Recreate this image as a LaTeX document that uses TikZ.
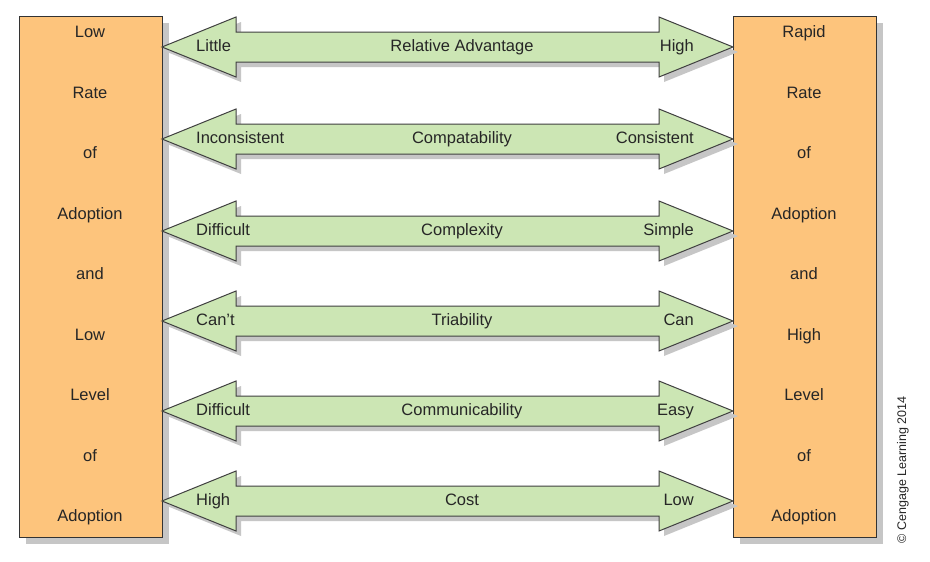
\documentclass[tikz,border=0pt]{standalone}
\usepackage{fontspec}
\setmainfont{Liberation Sans}
\begin{document}
\begin{tikzpicture}[x=1pt,y=-1pt,
  boxst/.style={draw=black!80,line width=1pt,fill=orange1},
  shad/.style={fill=gray!45,draw=none},
  arr/.style={draw=black!75,line width=1pt,fill=green1,line join=miter},
  lbl/.style={font=\fontsize{16.5}{18}\selectfont,text=black!85,text height=12pt,text depth=3pt},
  boxtxt/.style={font=\fontsize{16.5}{18}\selectfont,text=black!85,anchor=center,text height=12pt,text depth=3pt}]
\definecolor{orange1}{RGB}{253,196,124}
\definecolor{green1}{RGB}{204,230,180}
\useasboundingbox (0,0) rectangle (930,562);
\fill[white] (0,0) rectangle (930,562);
% boxes
\fill[shad] (26,23) rectangle (169,544);
\fill[shad] (740,23) rectangle (883,544);
\node[boxst,minimum width=143pt,minimum height=521pt,anchor=north west,inner sep=0] (L) at (19,16) {};
\node[boxst,minimum width=143pt,minimum height=521pt,anchor=north west,inner sep=0] (R) at (733,16) {};
\foreach \t [count=\i from 0] in {Low,Rate,of,Adoption,and,Low,Level,of,Adoption}
  \node[boxtxt] (l\i) at (90,{33+60.5*\i}) {\t};
\foreach \t [count=\i from 0] in {Rapid,Rate,of,Adoption,and,High,Level,of,Adoption}
  \node[boxtxt] (r\i) at (804,{33+60.5*\i}) {\t};
% arrows
\foreach \y/\a/\b/\c [count=\i] in {47/Little/Relative Advantage/High,
  139/Inconsistent/Compatability/Consistent,
  231/Difficult/Complexity/Simple,
  321/Can't/Triability/Can,
  411/Difficult/Communicability/Easy,
  501/High/Cost/Low}{
  \fill[shad,shift={(5,5)}] (162,\y) -- (236,\y-30) -- (236,\y-15) -- (659,\y-15) -- (659,\y-30) -- (733,\y) -- (659,\y+30) -- (659,\y+15) -- (236,\y+15) -- (236,\y+30) -- cycle;
  \draw[arr] (162,\y) -- (236,\y-30) -- (236,\y-15) -- (659,\y-15) -- (659,\y-30) -- (733,\y) -- (659,\y+30) -- (659,\y+15) -- (236,\y+15) -- (236,\y+30) -- cycle;
  \node[lbl,anchor=west,inner sep=0] (a\i) at (196,\y) {\a};
  \node[lbl,inner sep=0] (b\i) at (462,\y) {\b};
  \node[lbl,anchor=east,inner sep=0] (c\i) at (694,\y) {\c};
}
\node[rotate=90,font=\fontsize{12.5}{14}\selectfont,text=black!85,inner sep=0] (cp) at (903,470) {\textcopyright\ Cengage Learning 2014};
\end{tikzpicture}
\end{document}
